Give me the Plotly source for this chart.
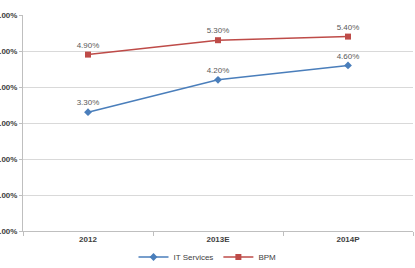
import plotly.graph_objects as go

categories = ["2012", "2013E", "2014P"]
it_services = [0.033, 0.042, 0.046]
bpm = [0.049, 0.053, 0.054]
y_ticks = [0, 0.01, 0.02, 0.03, 0.04, 0.05, 0.06]

blue = "#4A7EBB"
red = "#BE4B48"
lbl = "#595959"
fam = "Liberation Sans, Arial, sans-serif"

fig = go.Figure()
fig.add_trace(go.Scatter(
    x=categories, y=it_services, name="IT Services", mode="lines+markers+text",
    line=dict(color=blue, width=1.5),
    marker=dict(symbol="diamond", size=6, color=blue),
    text=[f"{v*100:.2f}%" for v in it_services], textposition="top center",
    textfont=dict(size=8, color=lbl), cliponaxis=False,
))
fig.add_trace(go.Scatter(
    x=categories, y=bpm, name="BPM", mode="lines+markers+text",
    line=dict(color=red, width=1.5),
    marker=dict(symbol="square", size=6, color=red),
    text=[f"{v*100:.2f}%" for v in bpm], textposition="top center",
    textfont=dict(size=8, color=lbl), cliponaxis=False,
))

fig.update_layout(
    width=415, height=268,
    margin=dict(l=23, r=2, t=15, b=37),
    paper_bgcolor="white", plot_bgcolor="white",
    font=dict(family=fam, size=8, color="#404040"),
    legend=dict(orientation="h", x=0.5, xref="container", xanchor="center",
                y=11/268, yref="container", yanchor="middle",
                font=dict(size=8, color="#404040"),
                bgcolor="rgba(0,0,0,0)", tracegroupgap=0),
    showlegend=True,
)
fig.update_xaxes(
    type="category", tickson="boundaries", ticks="outside", ticklen=4,
    tickcolor="#BFBFBF", showline=True, linecolor="#BFBFBF", linewidth=1,
    showgrid=False, tickfont=dict(size=8, color="#404040", family=fam, weight="bold"),
    range=[-0.5, 2.5], automargin=False,
)
fig.update_yaxes(
    range=[0, 0.06], tickvals=y_ticks, tickformat=".2%",
    showgrid=True, gridcolor="#D9D9D9", gridwidth=1,
    showline=True, linecolor="#BFBFBF", linewidth=1,
    ticks="outside", ticklen=3, tickcolor="#BFBFBF",
    tickfont=dict(size=8, color="#404040", weight="bold"),
    zeroline=False, automargin=False,
)

fig.write_html("out.html", config={"displayModeBar": False})
